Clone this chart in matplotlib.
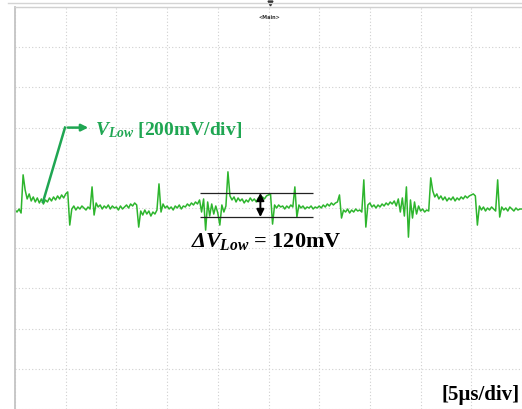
import numpy as np
import matplotlib
matplotlib.use("Agg")
import matplotlib.pyplot as plt
from matplotlib.lines import Line2D

plt.rcParams['mathtext.fontset'] = 'custom'
plt.rcParams['mathtext.rm'] = 'Liberation Serif:bold'
plt.rcParams['mathtext.it'] = 'Liberation Serif:italic:bold'
plt.rcParams['mathtext.bf'] = 'Liberation Serif:bold'

# 오실로스코프 화면: 5us/div, 200mV/div, 샘플 간격 0.2us
time_per_div = 5.0      # us
volt_per_div = 200.0    # mV
sample_step = 0.2       # us

# V_Low 파형 (mV), division 단위로 25개씩
v_low = [
    -10, -20, -5, -25, 165, 90, 45, 70, 35, 55, 30, 50, 25, 45, 20, 40, 30, 50, 35, 55, 40, 60, 45, 65, 50,
    70, 80, -85, -5, 10, -10, 5, -5, 10, 0, -10, 5, -5, 105, -35, 25, 5, 15, -5, 10, 0, 15, -5, 10, 0,
    5, -10, 10, -5, 5, 15, 0, 20, 10, 25, 15, -95, -15, -35, -10, -30, -15, -40, -20, -30, -10, 120, -20, 20, 0,
    10, -5, 5, -10, 10, 0, 15, -5, 10, 5, 20, 10, 25, 15, 30, 20, 40, -20, 45, -110, 30, -40, 20, -30, 10,
    -25, -85, 15, -20, 10, 180, 60, 40, 55, 30, 50, 35, 45, 25, 40, 30, 50, 35, 45, 30, 50, 40, 55, 45, 60,
    65, 70, -80, 15, 0, 15, 5, 10, -5, 10, 0, 15, 5, 105, -45, 15, 0, 10, -5, 5, 0, 10, -5, 5, 0,
    10, 0, 15, 5, 20, 10, 25, 15, 25, 30, 65, -50, -10, -20, -5, -25, -10, -20, -5, -15, -10, -20, 140, -95, 15,
    25, 5, 15, 0, 15, 5, 20, 10, 25, 15, 30, 20, 35, 10, 45, -20, 50, -40, 105, -145, 40, -50, 30, -30, 10,
    -15, -5, -20, -10, -15, 150, 85, 55, 70, 45, 60, 40, 55, 35, 50, 40, 55, 35, 50, 40, 55, 45, 60, 50, 60,
    65, 70, 60, -85, 10, -10, 5, -15, 0, -10, 5, -5, -15, 140, -45, 5, -10, 0, -15, 5, -5, -15, 0, -10, -5,
    -5,
]
t = np.arange(len(v_low)) * sample_step

# ΔV 측정 커서
cursor_t = [18.2, 29.4]
cursor_hi = 75
cursor_lo = -45
delta_label = '120mV'

trace_color = '#2db52d'
label_color = '#1fa652'

W, H, DPI = 522, 409, 100
fig = plt.figure(figsize=(W / DPI, H / DPI), dpi=DPI)
fig.patch.set_facecolor('white')

ax = fig.add_axes([15 / W, 0, 1 - 15 / W, (H - 7) / H])
ax.set_xlim(0, 10 * time_per_div)
ax.set_ylim(-5 * volt_per_div, 5 * volt_per_div)
ax.set_xticks(np.arange(0, 10 * time_per_div + 0.1, time_per_div))
ax.set_yticks(np.arange(-5 * volt_per_div, 5 * volt_per_div + 1, volt_per_div))
ax.grid(True, color='#d0d0d0', linestyle=(0, (1, 2)), linewidth=0.8)
ax.tick_params(length=0, labelbottom=False, labelleft=False)
for s in ['right', 'bottom']:
    ax.spines[s].set_visible(False)
ax.spines['left'].set_color('#c4c4c4')
ax.spines['left'].set_linewidth(1.3)
ax.spines['top'].set_color('#d0d0d0')
ax.spines['top'].set_linewidth(1.0)

# 바깥 테두리 선
fig.add_artist(Line2D([8 / W, 1], [1 - 3 / H, 1 - 3 / H], color='#d4d4d4', lw=1.0))

# 파형
ax.plot(t, v_low, color=trace_color, lw=1.1)

# 커서 라인과 화살표
ax.hlines([cursor_hi, cursor_lo], cursor_t[0], cursor_t[1], color='#222222', lw=0.9)
ax.annotate('', xy=(24.2, cursor_hi), xytext=(24.2, cursor_lo),
            arrowprops=dict(arrowstyle='<|-|>', color='black', lw=1.4,
                            mutation_scale=11, shrinkA=0, shrinkB=0))
ax.text(17.4, -195, '\u0394', fontsize=16, family='Liberation Serif',
        weight='bold', style='italic', color='black', va='baseline')
ax.text(18.7, -195, r'$V_{Low}$ = ' + delta_label, fontsize=16,
        family='Liberation Serif', weight='bold', color='black', va='baseline')

# V_Low 라벨 화살표
ax.plot([2.76, 4.93], [30, 400], color=label_color, lw=1.8)
ax.annotate('', xy=(7.5, 400), xytext=(4.93, 400),
            arrowprops=dict(arrowstyle='-|>', color=label_color, lw=1.8, mutation_scale=10))
ax.text(7.9, 365, r'$V_{Low}$ [200mV/div]', fontsize=14, family='Liberation Serif',
        weight='bold', color=label_color, va='baseline')

ax.text(49.8, -955, '[5\u00b5s/div]', fontsize=15, family='Liberation Serif',
        weight='bold', color='black', ha='right', va='baseline')

# 트리거 표시
ax.plot([25.1], [1020], marker='v', color='#333333', markersize=3.5, clip_on=False)
ax.text(25.1, 950, '<Main>', fontsize=3.5, weight='bold', ha='center', va='center', color='#333333')

fig.savefig('out.png', dpi=DPI)
